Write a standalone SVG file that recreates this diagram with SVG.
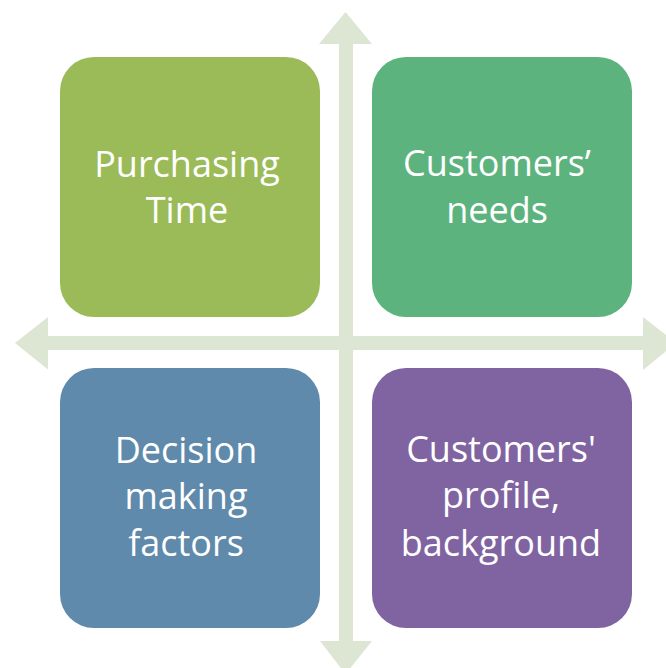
<svg xmlns="http://www.w3.org/2000/svg" width="666" height="668" viewBox="0 0 666 668">
<style>
.box{stroke:none}
.lbl{font-family:"Open Sans","Liberation Sans",sans-serif;font-size:36px;fill:#ffffff;text-anchor:middle}
.arr{fill:#dce6d3;stroke:none}
</style>
<rect width="666" height="668" fill="#ffffff"/>
<g id="connectors">
<polygon class="arr" points="339,44 319,44 345.5,12 372,44 353,44 353,641 372,641 345.5,674 320,641 339,641"/>
<polygon class="arr" points="48,336 48,317 15,343 48,369.5 48,350 643,350 643,370 676,343 643,317 643,336"/>
</g>
<g id="purchasing-time">
<rect class="box" x="60" y="57" width="260" height="260" rx="34" fill="#9bbb59"/>
<text class="lbl" x="187" y="177">Purchasing</text>
<text class="lbl" x="187" y="223">Time</text>
</g>
<g id="customers-needs">
<rect class="box" x="372" y="57" width="260" height="260" rx="34" fill="#5db37e"/>
<text class="lbl" x="497" y="176">Customers’</text>
<text class="lbl" x="497" y="223">needs</text>
</g>
<g id="decision-making">
<rect class="box" x="60" y="368" width="260" height="260" rx="34" fill="#5f8aab"/>
<text class="lbl" x="186" y="463">Decision</text>
<text class="lbl" x="186" y="509">making</text>
<text class="lbl" x="186" y="556">factors</text>
</g>
<g id="customers-profile">
<rect class="box" x="372" y="368" width="260" height="260" rx="34" fill="#8064a2"/>
<text class="lbl" x="501" y="462">Customers'</text>
<text class="lbl" x="501" y="508">profile,</text>
<text class="lbl" x="501" y="556">background</text>
</g>
</svg>
